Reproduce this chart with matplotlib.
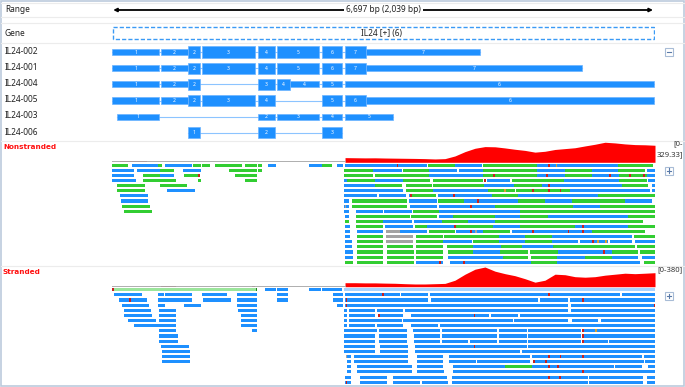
import numpy as np
import matplotlib.pyplot as plt
from matplotlib.patches import Rectangle

plt.rcParams['font.family'] = ['Noto Sans', 'DejaVu Sans']

W, H = 685, 387

range_bp = 6697
range_label = '6,697 bp (2,039 bp)'
gene_label = 'IL24 [+] (6)'

# transcripts: (start bp, end bp, coding, exon number)
transcript_names = ['IL24-002', 'IL24-001', 'IL24-004', 'IL24-005', 'IL24-003', 'IL24-006']
il24_002 = [(0, 580, 0, '1'), (604, 937, 0, '2'), (937, 1085, 1, '2'), (1110, 1763, 1, '3'),
            (1800, 2010, 1, '4'), (2034, 2552, 1, '5'), (2589, 2836, 1, '6'), (2873, 3132, 1, '7'),
            (3132, 4537, 0, '7')]
il24_001 = [(0, 580, 0, '1'), (604, 937, 0, '2'), (937, 1085, 1, '2'), (1110, 1763, 1, '3'),
            (1800, 2010, 1, '4'), (2034, 2552, 1, '5'), (2589, 2836, 1, '6'), (2873, 3132, 1, '7'),
            (3132, 5795, 0, '7')]
il24_004 = [(0, 580, 0, '1'), (604, 937, 0, '2'), (937, 1085, 1, '2'), (1800, 2010, 1, '3'),
            (2034, 2195, 1, '4'), (2195, 2552, 0, '4'), (2589, 2836, 0, '5'), (2873, 6683, 0, '6')]
il24_005 = [(0, 580, 0, '1'), (604, 937, 0, '2'), (937, 1085, 1, '2'), (1110, 1763, 1, '3'),
            (1800, 2010, 1, '4'), (2589, 2836, 1, '5'), (2873, 3132, 1, '6'), (3132, 6683, 0, '6')]
il24_003 = [(62, 580, 0, '1'), (1800, 2010, 0, '2'), (2034, 2552, 0, '3'), (2589, 2836, 0, '4'),
            (2873, 3465, 0, '5')]
il24_006 = [(937, 1085, 1, '1'), (1800, 2010, 1, '2'), (2589, 2836, 1, '3')]
transcripts = [il24_002, il24_001, il24_004, il24_005, il24_003, il24_006]

# coverage sampled along the region (bp)
cov_pos = [2874, 2997, 3120, 3244, 3367, 3490, 3614, 3737, 3860, 3984, 4107, 4230, 4354, 4477,
           4600, 4724, 4847, 4970, 5094, 5217, 5340, 5464, 5587, 5710, 5834, 5957, 6080, 6204,
           6327, 6450, 6574, 6697]
nonstranded_cov = [70, 68, 66, 67, 64, 62, 60, 58, 55, 50, 55, 95, 160, 210, 235, 232, 215, 195,
                   178, 152, 165, 192, 205, 218, 245, 270, 300, 290, 275, 265, 262, 255]
stranded_cov = [69, 69, 66, 66, 62, 59, 52, 47, 47, 52, 57, 112, 216, 302, 340, 268, 225, 190,
                138, 78, 112, 216, 207, 173, 164, 173, 199, 216, 233, 225, 233, 242]
nonstranded_max = 329.33
stranded_max = 380
nonstranded_low = [(99, 432, 12)]
stranded_low = [(604, 789, 14), (1727, 1760, 14)]

# reads per row: (start, end, colour code)
nonstranded_reads = [
    [(0, 200, 'g'), (250, 570, 'b'), (570, 620, 'g'), (650, 990, 'b'), (1000, 1100, 'g'), (1110, 1210, 'g'),
     (1270, 1600, 'g'), (1640, 1790, 'g'), (1800, 1850, 'g'), (1920, 2020, 'b'), (2430, 2590, 'b'),
     (2590, 2710, 'g'), (2780, 2850, 'b'), (2870, 3890, 'b'), (3900, 4230, 'g'), (4230, 4560, 'b'),
     (4580, 5240, 'g'), (5240, 6240, 'b'), (6240, 6670, 'g')],
    [(0, 270, 'b'), (310, 590, 'b'), (590, 770, 'g'), (880, 1100, 'b'), (1440, 1790, 'g'), (1800, 1850, 'g'),
     (2860, 3220, 'g'), (3220, 3580, 'b'), (3590, 3910, 'g'), (3910, 4260, 'b'), (4280, 4580, 'b'),
     (4580, 5240, 'g'), (5240, 5590, 'b'), (5590, 5920, 'g'), (5920, 6240, 'b'), (6240, 6570, 'g'),
     (6600, 6697, 'b')],
    [(0, 270, 'b'), (380, 590, 'g'), (590, 770, 'b'), (890, 1060, 'g'), (1520, 1790, 'g'),
     (2860, 3220, 'g'), (3240, 3910, 'g'), (3910, 4580, 'b'), (4580, 5240, 'g'), (5240, 5590, 'b'),
     (5590, 5920, 'g'), (5920, 6250, 'b'), (6250, 6600, 'g'), (6600, 6697, 'b')],
    [(0, 300, 'b'), (380, 790, 'g'), (1060, 1100, 'g'), (1640, 1790, 'g'),
     (2860, 2900, 'b'), (2900, 3240, 'g'), (3240, 3590, 'b'), (3590, 3920, 'g'), (3960, 4580, 'g'),
     (4620, 4910, 'b'), (4930, 5580, 'g'), (5580, 6250, 'b'), (6250, 6600, 'g'), (6610, 6697, 'b')],
    [(60, 410, 'g'), (590, 930, 'g'),
     (2860, 3240, 'b'), (3240, 3580, 'g'), (3630, 3950, 'g'), (3960, 4590, 'g'), (4590, 4960, 'b'),
     (4960, 5300, 'g'), (5300, 6290, 'b'), (6290, 6610, 'g'), (6660, 6697, 'b')],
    [(60, 410, 'g'), (680, 1020, 'b'),
     (2860, 3590, 'b'), (3630, 3960, 'g'), (3960, 4640, 'b'), (4640, 4970, 'g'), (4980, 5650, 'g'),
     (5650, 6630, 'b'), (6660, 6697, 'b')],
    [(100, 440, 'b'),
     (2860, 3270, 'b'), (3290, 3630, 'b'), (3660, 3700, 'b'), (3700, 4000, 'g'), (4020, 4690, 'b'),
     (4690, 5010, 'g'), (5010, 5990, 'b'), (5990, 6697, 'g')],
    [(110, 440, 'b'),
     (2860, 2920, 'b'), (2960, 3640, 'g'), (3660, 4010, 'b'), (4020, 4340, 'g'), (4340, 5010, 'b'),
     (5010, 5340, 'g'), (5340, 5670, 'b'), (5670, 6330, 'g'), (6330, 6660, 'b')],
    [(120, 470, 'g'),
     (2860, 2920, 'b'), (2960, 3640, 'g'), (3680, 4010, 'b'), (4030, 4350, 'b'), (4350, 4720, 'b'),
     (4720, 5690, 'g'), (5690, 6020, 'b'), (6020, 6697, 'g')],
    [(150, 490, 'g'),
     (2860, 2920, 'b'), (3010, 3340, 'b'), (3350, 3700, 'b'), (3710, 4030, 'g'), (4030, 5030, 'b'),
     (5030, 6697, 'g')],
    [(2870, 2920, 'b'), (3010, 3340, 'g'), (3340, 3680, 'g'), (3690, 4010, 'g'), (4030, 4210, 'b'),
     (4210, 4720, 'g'), (4720, 5030, 'b'), (5030, 5380, 'g'), (5380, 6360, 'b'), (6360, 6697, 'g')],
    [(2870, 2920, 'g'), (3010, 3340, 'g'), (3340, 3700, 'b'), (3730, 4070, 'b'), (4070, 4390, 'g'),
     (4390, 4720, 'b'), (4720, 6550, 'g')],
    [(2870, 2940, 'b'), (3010, 3340, 'g'), (3370, 3710, 'b'), (3740, 3890, 'g'), (3890, 4230, 'b'),
     (4230, 4700, 'g'), (4700, 5030, 'b'), (5030, 5710, 'g'), (5710, 6360, 'b'), (6360, 6697, 'g')],
    [(2870, 2940, 'b'), (3020, 3340, 'b'), (3380, 3550, 'k'), (3550, 3890, 'b'), (3910, 4230, 'g'),
     (4240, 4580, 'b'), (4580, 4910, 'g'), (4930, 5920, 'b'), (5920, 6570, 'g')],
    [(2870, 2940, 'b'), (3020, 3340, 'g'), (3380, 3710, 'k'), (3750, 4080, 'g'), (4100, 4440, 'g'),
     (4440, 4770, 'g'), (4770, 5090, 'b'), (5090, 5430, 'g'), (5430, 6410, 'b'), (6440, 6697, 'g')],
    [(2870, 2960, 'b'), (3020, 3340, 'g'), (3380, 3710, 'k'), (3750, 4080, 'g'), (4080, 4440, 'b'),
     (4450, 4770, 'g'), (4770, 5090, 'b'), (5090, 5430, 'g'), (5430, 5750, 'b'), (5770, 6120, 'b'),
     (6140, 6410, 'b'), (6450, 6697, 'b')],
    [(2870, 2960, 'b'), (3020, 3340, 'g'), (3390, 3710, 'g'), (3750, 4080, 'g'), (4130, 4450, 'g'),
     (4450, 4800, 'b'), (4800, 5060, 'g'), (5060, 5440, 'b'), (5440, 6450, 'g'), (6480, 6697, 'g')],
    [(2870, 2970, 'b'), (3020, 3340, 'g'), (3390, 3720, 'g'), (3750, 4080, 'g'), (4140, 4450, 'g'),
     (4450, 4790, 'b'), (4790, 5130, 'g'), (5160, 5500, 'g'), (5500, 6170, 'b'), (6170, 6490, 'g'),
     (6510, 6697, 'g')],
    [(2870, 2970, 'b'), (3020, 3340, 'g'), (3390, 3720, 'g'), (3750, 4080, 'g'), (4140, 4820, 'b'),
     (4820, 5130, 'g'), (5170, 5490, 'g'), (5490, 5830, 'b'), (5830, 6170, 'g'), (6170, 6490, 'b'),
     (6540, 6697, 'b')],
    [(2870, 2970, 'g'), (3020, 3340, 'g'), (3390, 3720, 'g'), (3750, 4080, 'b'), (4170, 5170, 'b'),
     (5170, 5490, 'g'), (5490, 6510, 'b'), (6560, 6697, 'g')],
]

stranded_reads = [
    [(0, 1790, 'lg'), (1890, 2020, 'b'), (2030, 2170, 'b'), (2430, 2580, 'b'), (2590, 2840, 'b'),
     (2860, 6697, 'lb')],
    [(25, 370, 'b'), (570, 640, 'b'), (650, 990, 'b'), (1110, 1420, 'b'), (1540, 1790, 'b'), (2030, 2170, 'b'),
     (2730, 2850, 'b'), (2870, 3340, 'b'), (3340, 3550, 'b'), (3560, 3900, 'b'), (3920, 6260, 'b'),
     (6290, 6697, 'b')],
    [(90, 430, 'b'), (570, 990, 'b'), (1120, 1470, 'b'), (1540, 1790, 'b'), (2030, 2170, 'b'), (2730, 2850, 'b'),
     (2870, 3900, 'b'), (3930, 5250, 'b'), (5280, 5620, 'b'), (5650, 6697, 'b')],
    [(120, 460, 'b'), (570, 650, 'b'), (890, 1100, 'b'), (1540, 1790, 'b'), (2780, 2850, 'b'),
     (2870, 5620, 'b'), (5660, 6697, 'b')],
    [(150, 480, 'b'), (580, 790, 'b'), (1550, 1790, 'b'),
     (2860, 2900, 'b'), (2920, 3240, 'b'), (3270, 3590, 'b'), (3610, 5620, 'b'), (5660, 6697, 'b')],
    [(150, 490, 'b'), (580, 790, 'b'), (1590, 1790, 'b'),
     (2860, 2900, 'b'), (2920, 3240, 'b'), (3280, 3590, 'b'), (3690, 4650, 'b'), (4670, 5010, 'b'),
     (5030, 6697, 'b')],
    [(200, 540, 'b'), (580, 790, 'b'), (1590, 1790, 'b'),
     (2860, 2900, 'b'), (2920, 3580, 'b'), (3590, 4600, 'b'), (4600, 4950, 'b'), (4960, 5620, 'b'),
     (5670, 5990, 'b'), (6030, 6697, 'b')],
    [(270, 790, 'b'), (1590, 1790, 'b'),
     (2860, 2900, 'b'), (2920, 3240, 'b'), (3270, 3590, 'b'), (3690, 4020, 'b'), (4050, 6697, 'b')],
    [(580, 790, 'b'), (1730, 1790, 'b'),
     (2860, 3270, 'b'), (3290, 3640, 'b'), (3710, 4050, 'b'), (4070, 4750, 'b'), (4770, 5120, 'b'),
     (5130, 5780, 'b'), (5800, 6697, 'b')],
    [(580, 810, 'b'),
     (2860, 3240, 'b'), (3290, 3640, 'b'), (3730, 4050, 'b'), (4070, 4750, 'b'), (4770, 5120, 'b'),
     (5130, 5780, 'b'), (5800, 6697, 'b')],
    [(580, 810, 'b'),
     (2860, 3240, 'b'), (3290, 3640, 'b'), (3730, 4050, 'b'), (4070, 4390, 'b'), (4420, 4750, 'b'),
     (4770, 5120, 'b'), (5130, 5780, 'b'), (5800, 6120, 'b'), (6130, 6697, 'b')],
    [(600, 950, 'b'),
     (2860, 3240, 'b'), (3300, 3650, 'b'), (3740, 5120, 'b'), (5130, 6697, 'b')],
    [(620, 960, 'b'),
     (2860, 3240, 'b'), (3300, 3650, 'b'), (3740, 5030, 'b'), (5060, 6697, 'b')],
    [(620, 960, 'b'),
     (2900, 2950, 'b'), (2990, 3650, 'b'), (3760, 4080, 'b'), (4160, 5160, 'b'), (5180, 6540, 'b'),
     (6560, 6697, 'b')],
    [(620, 960, 'b'),
     (2900, 2950, 'b'), (2990, 3650, 'b'), (3760, 4080, 'b'), (4160, 4490, 'b'), (4500, 5160, 'b'),
     (5200, 6560, 'b'), (6570, 6697, 'b')],
    [(2900, 2950, 'b'), (3020, 3700, 'b'), (3760, 4080, 'b'), (4210, 4850, 'b'), (4850, 5180, 'g'),
     (5180, 6190, 'b'), (6200, 6540, 'b'), (6610, 6697, 'b')],
    [(2900, 2950, 'b'), (3020, 3700, 'b'), (3760, 4100, 'b'), (4210, 6697, 'b')],
    [(2870, 2950, 'b'), (3060, 3390, 'b'), (3470, 4130, 'b'), (4190, 5870, 'b'), (5880, 6550, 'b'),
     (6600, 6697, 'b')],
    [(2870, 2950, 'b'), (3060, 3390, 'b'), (3470, 3800, 'b'), (3820, 4140, 'b'), (4190, 5870, 'b'),
     (5880, 6550, 'b'), (6600, 6697, 'b')],
]

# mismatches: (row, bp, colour code)
nonstranded_marks = [(0, 3510, 'r'), (0, 5380, 'r'), (0, 5470, 'o'), (2, 1060, 'r'), (2, 4700, 'r'),
                     (2, 5350, 'r'), (2, 6130, 'r'), (2, 6380, 'r'), (2, 6550, 'r'), (3, 4590, 'r'),
                     (4, 5380, 'r'), (5, 4840, 'o'), (5, 5180, 'r'), (5, 5380, 'r'), (5, 5520, 'r'),
                     (6, 3680, 'r'), (6, 4210, 'r'), (7, 4500, 'r'), (8, 2870, 'k'), (8, 4420, 'r'),
                     (12, 4220, 'r'), (12, 5800, 'r'), (13, 4420, 'r'), (13, 4480, 'k'), (13, 5180, 'r'),
                     (13, 5620, 'r'), (13, 5800, 'r'), (15, 5920, 'r'), (15, 5980, 'o'), (15, 6080, 'o'),
                     (17, 6060, 'r'), (19, 4030, 'r'), (19, 4330, 'r')]
stranded_marks = [(0, 0, 'r'), (0, 1770, 'd'), (1, 3330, 'r'), (1, 5380, 'r'), (2, 210, 'r'), (2, 2880, 'r'),
                  (2, 5800, 'r'), (3, 2880, 'r'), (3, 6680, 'r'), (5, 3280, 'r'), (5, 4460, 'r'),
                  (8, 5800, 'r'), (8, 5960, 'o'), (9, 5800, 'r'), (10, 5800, 'r'), (11, 4460, 'r'),
                  (13, 2880, 'k'), (13, 5380, 'r'), (13, 5520, 'r'), (13, 5800, 'r'), (14, 5190, 'r'),
                  (14, 5340, 'r'), (15, 5380, 'r'), (15, 5490, 'r'), (16, 5800, 'r'), (17, 5380, 'r'),
                  (17, 5510, 'r'), (18, 2880, 'r')]

BLUE = '#1E90FF'
colors = {'b': BLUE, 'g': '#32CD32', 'k': '#A3A3A3', 'lg': '#9BE59B', 'lb': '#A9D3FF',
          'r': '#C82020', 'o': '#D8A030', 'd': '#1E8A1E'}

fig = plt.figure(figsize=(W / 100, H / 100), dpi=100)


def px_axes(x0, y0, x1, y1):
    ax = fig.add_axes([x0 / W, 1 - y1 / H, (x1 - x0) / W, (y1 - y0) / H])
    ax.set_axis_off()
    return ax


# background: frame, separators, labels, icons
bg = px_axes(0, 0, W, H)
bg.set_xlim(0, W)
bg.set_ylim(H, 0)
bg.add_patch(Rectangle((0.5, 0.5), W - 1.5, H - 1.5, fill=False, ec='#BCCBDD', lw=1.2))
for yy in [3, 17, 23, 43, 141, 266]:
    bg.plot([1, W - 1], [yy, yy], color='#ECECEC', lw=0.8)
bg.text(5, 10, 'Range', fontsize=6, va='center', color='#222222')
bg.text(5, 33, 'Gene', fontsize=6, va='center', color='#222222')
tr_y = [52, 67.5, 83.5, 99.5, 116, 132.5]
for name, yy in zip(transcript_names, tr_y):
    bg.text(5, yy, name, fontsize=6, va='center', color='#222222')
bg.text(3, 147, 'Nonstranded', fontsize=5.2, weight='bold', color='#FF1010', va='center',
        family='DejaVu Sans')
bg.text(3, 272, 'Stranded', fontsize=5.2, weight='bold', color='#FF1010', va='center',
        family='DejaVu Sans')
bg.text(683, 143.5, '[0-', fontsize=5.5, ha='right', va='center', color='#333333')
bg.text(683, 155, '329.33]', fontsize=5.5, ha='right', va='center', color='#333333')
bg.text(683, 270, '[0-380]', fontsize=5.5, ha='right', va='center', color='#333333')
for yy, sym in [(51.5, '-'), (170.5, '+'), (296, '+')]:
    bg.add_patch(Rectangle((665, yy - 4), 8, 8, fc='white', ec='#A8BCD6', lw=0.8))
    bg.plot([666.8, 671.2], [yy, yy], color='#5A7AA8', lw=0.8)
    if sym == '+':
        bg.plot([669, 669], [yy - 2.2, yy + 2.2], color='#5A7AA8', lw=0.8)

GX0, GX1 = 112, 655

# range arrow and gene box
top = px_axes(GX0, 0, GX1, 44)
top.set_xlim(0, range_bp)
top.set_ylim(44, 0)
top.annotate('', xy=(15, 10), xytext=(range_bp - 25, 10),
             arrowprops=dict(arrowstyle='<|-|>', color='black', lw=1.3, mutation_scale=5,
                             shrinkA=0, shrinkB=0))
top.text(range_bp / 2, 10, range_label, fontsize=6, ha='center', va='center', color='#222222',
         bbox=dict(fc='white', ec='none', pad=1.2))
top.add_patch(Rectangle((10, 27), range_bp - 25, 12, fill=False, ec='#3A9AF5', lw=1, ls=(0, (3, 1.5))))
top.text(3070, 33.5, gene_label, fontsize=6, va='center', color='#222222')

# transcripts
tax = px_axes(GX0, 44, GX1, 44 + 6 * 16.15)
tax.set_xlim(0, range_bp)
tax.set_ylim(5.5, -0.5)
for i, exons in enumerate(transcripts):
    tax.plot([exons[0][0], exons[-1][1]], [i, i], color='#8CC4FF', lw=0.8, zorder=1)
    for s, e, coding, lab in exons:
        h = 0.7 if coding else 0.38
        tax.add_patch(Rectangle((s, i - h / 2), e - s, h, fc=BLUE, ec='#6BB3FF', lw=0.5, zorder=2))
        tax.text((s + e) / 2, i, lab, fontsize=3.6, color='white', ha='center', va='center', zorder=3)


def draw_cov(y0, y1, vmax, vals, low):
    ax = px_axes(GX0, y0, GX1, y1)
    ax.set_xlim(0, range_bp)
    ax.set_ylim(0, vmax)
    ax.fill_between(cov_pos, vals, color='#FF0000', lw=0)
    ax.plot([0, cov_pos[0]], [0, 0], color='#A8A8A8', lw=1.3)
    for s, e, v in low:
        ax.bar(s, v, width=e - s, align='edge', color='#D04050', lw=0)


def draw_reads(y0, row_h, rows, marks):
    n = len(rows)
    ax = px_axes(GX0, y0 - row_h / 2, GX1, y0 + (n - 0.5) * row_h)
    ax.set_xlim(0, range_bp)
    ax.set_ylim(n - 0.5, -0.5)
    ys, ws, ls, cs = [], [], [], []
    for i, row in enumerate(rows):
        for s, e, c in row:
            ys.append(i)
            ws.append(e - s)
            ls.append(s)
            cs.append(colors[c])
    ax.barh(ys, ws, left=ls, height=0.6, color=cs, lw=0)
    mr = [m[0] for m in marks]
    mp = [m[1] for m in marks]
    mc = [colors[m[2]] for m in marks]
    ax.barh(mr, 22, left=mp, height=0.6, color=mc, lw=0)


draw_cov(140.3, 162.3, nonstranded_max, nonstranded_cov, nonstranded_low)
draw_reads(165.3, 5.1, nonstranded_reads, nonstranded_marks)
draw_cov(264.7, 286.7, stranded_max, stranded_cov, stranded_low)
draw_reads(289.7, 5.14, stranded_reads, stranded_marks)

fig.savefig('out.png', dpi=100)
